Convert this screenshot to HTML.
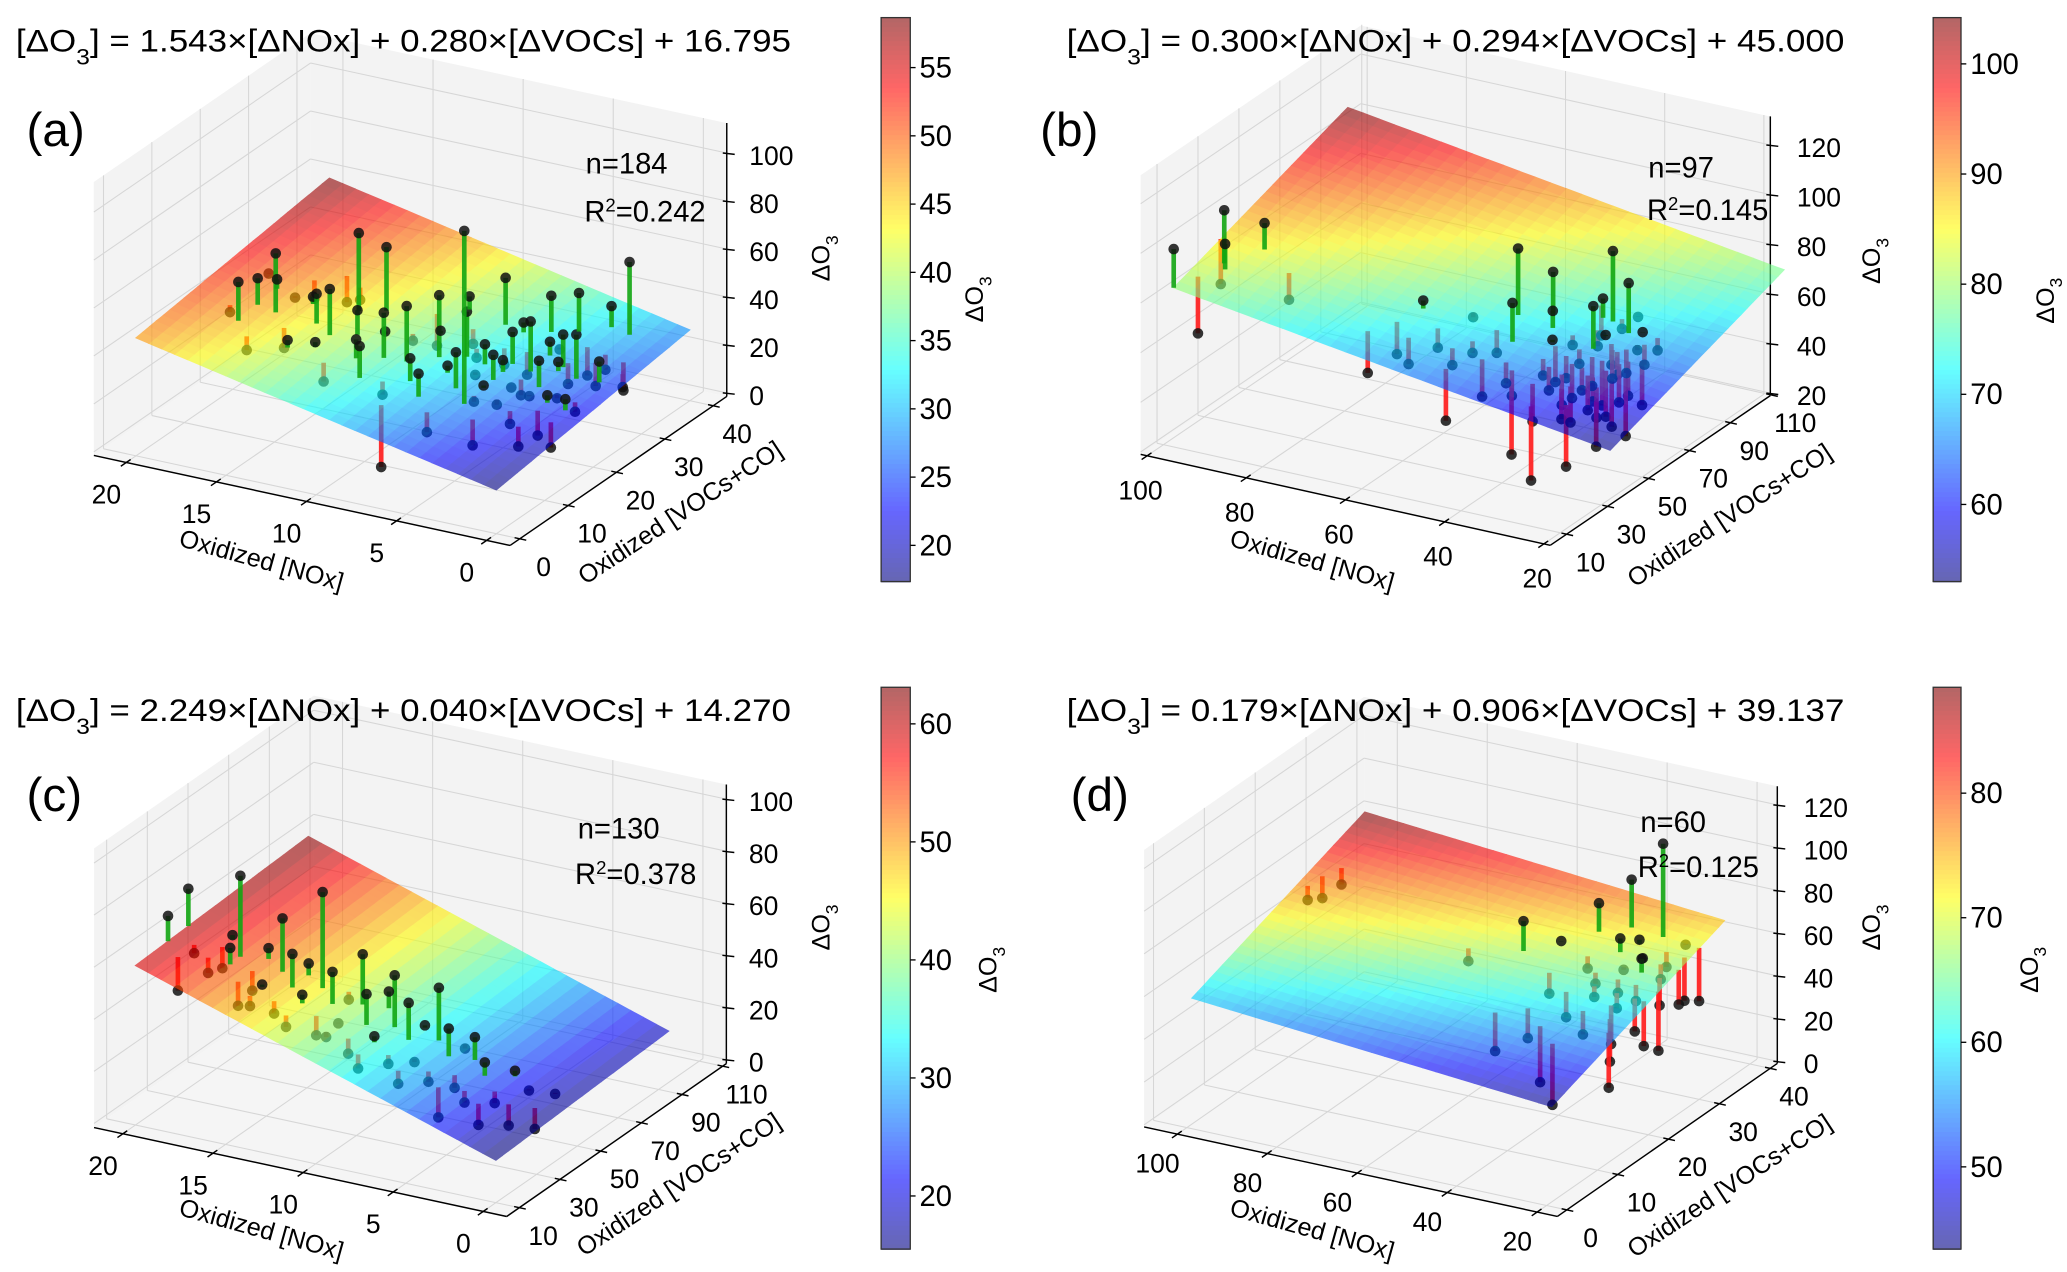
<!DOCTYPE html>
<html><head><meta charset="utf-8"><style>
html,body{margin:0;padding:0;background:#fff;}
svg{display:block;font-family:"Liberation Sans",Arial,sans-serif;}
</style></head><body>
<svg id="fig" width="2067" height="1272" viewBox="0 0 1560 960" preserveAspectRatio="none" xmlns="http://www.w3.org/2000/svg">
<rect width="1560" height="960" fill="#fff"/>
<g id="plots"></g>
<g font-size="24" fill="#000">
<text x="12" y="39" textLength="585" lengthAdjust="spacingAndGlyphs">[ΔO<tspan baseline-shift="sub" font-size="17">3</tspan>] = 1.543×[ΔNOx] + 0.280×[ΔVOCs] + 16.795</text>
<text x="805" y="39" textLength="587" lengthAdjust="spacingAndGlyphs">[ΔO<tspan baseline-shift="sub" font-size="17">3</tspan>] = 0.300×[ΔNOx] + 0.294×[ΔVOCs] + 45.000</text>
<text x="12" y="544" textLength="585" lengthAdjust="spacingAndGlyphs">[ΔO<tspan baseline-shift="sub" font-size="17">3</tspan>] = 2.249×[ΔNOx] + 0.040×[ΔVOCs] + 14.270</text>
<text x="805" y="544" textLength="587" lengthAdjust="spacingAndGlyphs">[ΔO<tspan baseline-shift="sub" font-size="17">3</tspan>] = 0.179×[ΔNOx] + 0.906×[ΔVOCs] + 39.137</text>
</g>
<g font-size="36">
<text x="20" y="110">(a)</text>
<text x="785" y="110">(b)</text>
<text x="20" y="612">(c)</text>
<text x="808" y="612">(d)</text>
</g>
<g font-size="22">
<text x="442" y="131">n=184</text>
<text x="441" y="167">R<tspan baseline-shift="super" font-size="14">2</tspan>=0.242</text>
<text x="1244" y="134">n=97</text>
<text x="1243" y="166">R<tspan baseline-shift="super" font-size="14">2</tspan>=0.145</text>
<text x="436" y="633">n=130</text>
<text x="434" y="667">R<tspan baseline-shift="super" font-size="14">2</tspan>=0.378</text>
<text x="1238" y="628">n=60</text>
<text x="1236" y="662">R<tspan baseline-shift="super" font-size="14">2</tspan>=0.125</text>
</g>
<g font-size="19" text-anchor="middle" dominant-baseline="middle">
<text transform="translate(197,424) rotate(15.5)">Oxidized [NOx]</text>
<text transform="translate(514,388) rotate(-33.4)">Oxidized [VOCs+CO]</text>
<text transform="translate(621,195) rotate(-90)">ΔO<tspan baseline-shift="sub" font-size="13">3</tspan></text>
<text transform="translate(990,424) rotate(15.5)">Oxidized [NOx]</text>
<text transform="translate(1306,390) rotate(-33.4)">Oxidized [VOCs+CO]</text>
<text transform="translate(1414,197) rotate(-90)">ΔO<tspan baseline-shift="sub" font-size="13">3</tspan></text>
<text transform="translate(197,929) rotate(15.5)">Oxidized [NOx]</text>
<text transform="translate(513,895) rotate(-33.4)">Oxidized [VOCs+CO]</text>
<text transform="translate(621,700) rotate(-90)">ΔO<tspan baseline-shift="sub" font-size="13">3</tspan></text>
<text transform="translate(990,929) rotate(15.5)">Oxidized [NOx]</text>
<text transform="translate(1306,896) rotate(-33.4)">Oxidized [VOCs+CO]</text>
<text transform="translate(1414,700) rotate(-90)">ΔO<tspan baseline-shift="sub" font-size="13">3</tspan></text>
<text transform="translate(737,226) rotate(-90)">ΔO<tspan baseline-shift="sub" font-size="13">3</tspan></text>
<text transform="translate(1545,227) rotate(-90)">ΔO<tspan baseline-shift="sub" font-size="13">3</tspan></text>
<text transform="translate(747,732) rotate(-90)">ΔO<tspan baseline-shift="sub" font-size="13">3</tspan></text>
<text transform="translate(1533,732) rotate(-90)">ΔO<tspan baseline-shift="sub" font-size="13">3</tspan></text>
</g>
</svg>
<script>
// ---------- data ----------
const aCoef = [1.543, 0.280, 16.795];
const aNox = [17,16,15,14,13,12,16,18,15,14,13,17,12,11,16,14,18,15,13,12,11,17,16,10,10,9,8,9,8,7,10,9,7,8,6,6,7,10,9,5,5,4,3,4,3,2,5,2,4,3,1,2,1,3,4,5,2,1,3,2,1,4,6,6,5,0.5,7,8,5,4,3,2,6,4,3,5,2,1,6,7,3,4,2,5];
const aVoc = [10,14,18,9,20,16,22,12,12,15,11,18,22,12,8,24,20,25,14,9,18,14,18,14,20,15,18,10,12,16,9,22,20,25,14,18,10,25,28,12,18,15,20,22,14,18,25,24,28,30,20,12,25,25,18,20,30,15,35,35,30,10,24,8,30,28,28,6,16,20,24,28,20,26,18,22,20,18,28,22,26,32,16,14];
const aO3 = [62,70,48,44,75,50,40,45,35,55,42,52,68,45,38,40,50,36,60,30,40,58,46,55,35,58,60,28,42,35,48,38,52,30,45,30,40,26,44,100,40,25,38,50,20,28,22,45,30,18,20,15,34,42,28,35,22,12,40,60,15,15,26,20,48,20,55,5,30,22,32,18,40,36,26,44,24,28,38,30,20,48,14,26];

const bCoef = [0.300, 0.294, 45.000];
const bNox = [98,96,95,100,92,85,100,50,48,45,42,40,38,36,35,34,33,32,31,30,30,29,28,28,27,26,26,25,25,24,24,23,23,22,22,21,21,20,20,27,29,32,34,36,38,40,44,46,55,58,62,65,60,52,48,30,25,28,26,24,31,33,27,29,35,23,22,30,26];
const bVoc = [22,30,28,15,40,35,38,30,35,50,40,55,30,45,38,50,28,42,55,35,60,48,40,30,52,45,58,38,50,42,60,35,55,48,40,60,30,50,42,65,62,60,64,25,50,32,30,42,35,28,32,25,40,45,22,20,25,45,38,52,46,36,32,54,44,46,56,40,50];
const bO3 = [58,104,92,95,95,70,68,62,65,100,85,90,55,70,60,66,48,58,64,52,100,85,56,50,60,48,90,54,58,46,70,50,66,52,44,64,42,48,40,72,68,80,62,35,78,58,52,62,64,60,60,55,78,72,45,30,35,55,50,58,62,56,48,70,54,50,60,52,56];

const cCoef = [2.249, 0.040, 14.270];
const cNox = [20,19,18,19,17,18,16,17,16,15,15,14,14,13,13,12,12,11,11,10,10,9,9,8,8,7,7,6,6,5,5,4,4,3,3,2,2,1,1,16,14,12,10,8,6,18,20,11,9,7,5,3,13,15];
const cVoc = [26,30,28,22,35,35,25,30,32,28,38,25,34,30,40,28,36,30,42,26,35,30,40,28,38,32,44,30,40,34,44,30,40,36,46,34,44,38,48,40,42,44,46,46,48,40,36,24,22,24,26,28,22,22];
const cO3 = [70,55,50,45,85,48,42,60,44,50,70,42,60,48,82,35,55,40,60,32,50,38,56,30,48,30,52,25,40,22,36,20,30,18,25,12,20,10,18,56,52,40,45,35,28,58,75,38,30,26,15,14,40,45];

const dCoef = [0.179, 0.906, 39.137];
const dNox = [98,97,95,60,50,45,42,40,38,36,35,34,33,32,31,30,30,29,28,28,27,26,26,25,25,24,24,23,23,22,22,21,21,20,20,20,40,45,35,30];
const dVoc = [22,24,26,20,22,25,20,28,24,18,30,22,26,20,28,24,16,22,30,26,20,24,18,28,22,26,16,20,30,24,14,28,20,26,30,22,14,12,12,10];
const dO3 = [70,68,72,62,82,70,55,85,62,50,95,60,75,58,72,65,48,58,115,68,55,72,42,62,56,60,38,46,70,52,30,48,40,50,45,35,45,40,30,25];

const aXTicks=[0,5,10,15,20], aYTicks=[0,10,20,30,40], aZTicks=[0,20,40,60,80,100], aCbTicks=[20,25,30,35,40,45,50,55];
const bXTicks=[20,40,60,80,100], bYTicks=[10,30,50,70,90,110], bZTicks=[20,40,60,80,100,120], bCbTicks=[60,70,80,90,100];
const cXTicks=[0,5,10,15,20], cYTicks=[10,30,50,70,90,110], cZTicks=[0,20,40,60,80,100], cCbTicks=[20,30,40,50,60];
const dXTicks=[20,40,60,80,100], dYTicks=[0,10,20,30,40], dZTicks=[0,20,40,60,80,100,120], dCbTicks=[50,60,70,80];

// ---------- layout (projection) ----------
const panels = [
 {id:'a',O:[374.6,400.1],ex:[-13.6,-2.94],ey:[3.65,-2.51],ez:[0,-1.81],bx:[-1.3,21.8],by:[-2,42.8],bz:[-1.5,112.5],px:[0,20],py:[0,40],coef:aCoef,nox:aNox,voc:aVoc,o3:aO3,xt:aXTicks,yt:aYTicks,zt:aZTicks,xoff:[-15,24],cb:{x:665,y:13.3,w:22,h:425.6,min:17.35,max:58.66,ticks:aCbTicks}},
 {id:'b',O:[1236.9,464.8],ex:[-3.7425,-0.831],ey:[1.545,-1.051],ez:[0,-1.873],bx:[18.7,101.3],by:[2,109.5],bz:[19,131.5],px:[12,100],py:[15,100],coef:bCoef,nox:bNox,voc:bVoc,o3:bO3,xt:bXTicks,yt:bYTicks,zt:bZTicks,xoff:[-5,26],cb:{x:1459,y:13.3,w:21,h:425.6,min:53.0,max:104.2,ticks:bCbTicks}},
 {id:'c',O:[358.9,915.2],ex:[-13.6,-2.93],ey:[1.535,-1.068],ez:[0,-1.965],bx:[-1.3,21.6],by:[3.8,111.8],bz:[-1.6,105.6],px:[0,20],py:[10,95],coef:cCoef,nox:cNox,voc:cVoc,o3:cO3,xt:cXTicks,yt:cYTicks,zt:cZTicks,xoff:[-15,24],cb:{x:665,y:518.7,w:22,h:424,min:15.5,max:63.1,ticks:cCbTicks}},
 {id:'d',O:[1235.1,922.9],ex:[-3.394,-0.735],ey:[3.8375,-2.67],ez:[0,-1.6125],bx:[15.5,107.4],by:[-1.85,41.4],bz:[-1,128.7],px:[20,100],py:[1,35],coef:dCoef,nox:dNox,voc:dVoc,o3:dO3,xt:dXTicks,yt:dYTicks,zt:dZTicks,xoff:[-15,22],cb:{x:1459,y:518.7,w:21,h:424,min:43.4,max:88.5,ticks:dCbTicks}}
];

const NS='http://www.w3.org/2000/svg';
const root=document.getElementById('plots');
function mk(tag,attrs,parent){const e=document.createElementNS(NS,tag);for(const k in attrs)e.setAttribute(k,attrs[k]);parent.appendChild(e);return e;}
function clamp(v){return Math.max(0,Math.min(1,v));}
function jet(t,alpha){
  const r=clamp(1.5-Math.abs(4*t-3)),g=clamp(1.5-Math.abs(4*t-2)),b=clamp(1.5-Math.abs(4*t-1));
  const f=c=>Math.round(255*(c*alpha+(1-alpha)));
  return 'rgb('+f(r)+','+f(g)+','+f(b)+')';
}
function pts(arr){return arr.map(p=>p[0].toFixed(1)+','+p[1].toFixed(1)).join(' ');}

panels.forEach(P=>{
  const g=mk('g',{},root);
  
  
  const pr=(x,y,z)=>[P.O[0]+x*P.ex[0]+y*P.ey[0]+z*P.ez[0], P.O[1]+x*P.ex[1]+y*P.ey[1]+z*P.ez[1]];
  const [x0,x1]=P.bx,[y0,y1]=P.by,[z0,z1]=P.bz;
  const plane=(x,y)=>P.coef[0]*x+P.coef[1]*y+P.coef[2];
  const panes=[[pr(x0,y0,z0),pr(x1,y0,z0),pr(x1,y1,z0),pr(x0,y1,z0)],[pr(x1,y0,z0),pr(x1,y1,z0),pr(x1,y1,z1),pr(x1,y0,z1)],[pr(x0,y1,z0),pr(x1,y1,z0),pr(x1,y1,z1),pr(x0,y1,z1)]];
  ['floor-pane','left-wall-pane','back-wall-pane'].forEach((nm,i)=>{
    const pg=mk('polygon',{points:pts(panes[i]),fill:i==0?'#f5f5f5':'#f3f3f3'},g);
    
    
  });
  const grid=mk('g',{stroke:'#d6d6d6','stroke-width':0.8,fill:'none'},g);
  
  
  const ln=(a,b,par,attrs)=>mk('line',Object.assign({x1:a[0],y1:a[1],x2:b[0],y2:b[1]},attrs||{}),par);
  P.xt.forEach(t=>{ln(pr(t,y0,z0),pr(t,y1,z0),grid);ln(pr(t,y1,z0),pr(t,y1,z1),grid);});
  P.yt.forEach(t=>{ln(pr(x0,t,z0),pr(x1,t,z0),grid);ln(pr(x1,t,z0),pr(x1,t,z1),grid);});
  P.zt.forEach(t=>{ln(pr(x1,y0,t),pr(x1,y1,t),grid);ln(pr(x0,y1,t),pr(x1,y1,t),grid);});
  const ax=mk('g',{stroke:'#000','stroke-width':1.1},g);
  
  
  ln(pr(x0,y0,z0),pr(x1,y0,z0),ax);ln(pr(x0,y0,z0),pr(x0,y1,z0),ax);ln(pr(x0,y1,z0),pr(x0,y1,z1),ax);
  const norm=v=>{const l=Math.hypot(v[0],v[1]);return [v[0]/l,v[1]/l];};
  const ny=norm(P.ey),nx=norm(P.ex);
  const lab=mk('g',{'font-size':20,fill:'#000'},g);
  P.xt.forEach(t=>{const p=pr(t,y0,z0);ln([p[0]+ny[0]*4,p[1]+ny[1]*4],[p[0]-ny[0]*5,p[1]-ny[1]*5],ax);
    const tx=mk('text',{x:p[0]+P.xoff[0],y:p[1]+P.xoff[1]+7,'text-anchor':'middle'},lab);tx.textContent=t;
    
    });
  P.yt.forEach(t=>{const p=pr(x0,t,z0);ln([p[0]+nx[0]*4,p[1]+nx[1]*4],[p[0]-nx[0]*5,p[1]-nx[1]*5],ax);
    const tx=mk('text',{x:p[0]+18,y:p[1]+21+7,'text-anchor':'middle'},lab);tx.textContent=t;
    
    });
  P.zt.forEach(t=>{const p=pr(x0,y1,t);ln([p[0]-3,p[1]],[p[0]+6,p[1]+1],ax);
    const tx=mk('text',{x:p[0]+(P.id=='b'||P.id=='d'?20:17),y:p[1]+9,'text-anchor':'start'},lab);tx.textContent=t;
    
    });
  const below=mk('g',{},g);
  
  
  const above=mk('g',{},g);
  const drawStem=(i,par)=>{
    const x=P.nox[i],y=P.voc[i],z=P.o3[i],zp=plane(x,y);
    const a=pr(x,y,zp),b=pr(x,y,z);
    const s=ln(a,b,par,{stroke:z>=zp?'#12a512':'#ff1a1a','stroke-width':3.5,'stroke-opacity':0.9});
    
    
    const c=mk('circle',{cx:b[0],cy:b[1],r:4,fill:'#111','fill-opacity':0.85},par);
    
    
  };
  P.o3.forEach((z,i)=>{ if(z<plane(P.nox[i],P.voc[i])) drawStem(i,below); });
  const surf=mk('g',{opacity:0.6},g);
  
  
  const N=28,[px0,px1]=P.px,[py0,py1]=P.py;
  for(let i=0;i<N;i++)for(let j=0;j<N;j++){
    const xa=px0+(px1-px0)*i/N,xb=px0+(px1-px0)*(i+1)/N,ya=py0+(py1-py0)*j/N,yb=py0+(py1-py0)*(j+1)/N;
    const zc=plane((xa+xb)/2,(ya+yb)/2),col=jet((zc-P.cb.min)/(P.cb.max-P.cb.min),1);
    mk('polygon',{points:pts([pr(xa,ya,plane(xa,ya)),pr(xb,ya,plane(xb,ya)),pr(xb,yb,plane(xb,yb)),pr(xa,yb,plane(xa,yb))]),fill:col,stroke:col,'stroke-width':0.8},surf);
  }
  g.appendChild(above);
  
  
  P.o3.forEach((z,i)=>{ if(z>=plane(P.nox[i],P.voc[i])) drawStem(i,above); });
  const cb=P.cb,cg=mk('g',{},root);
  
  
  const M=120;
  for(let k=0;k<M;k++){mk('rect',{x:cb.x,y:cb.y+cb.h*k/M,width:cb.w,height:cb.h/M+0.6,fill:jet(1-(k+0.5)/M,0.6)},cg);}
  mk('rect',{x:cb.x,y:cb.y,width:cb.w,height:cb.h,fill:'none',stroke:'#333','stroke-width':1},cg);
  cb.ticks.forEach(t=>{const yy=cb.y+cb.h*(1-(t-cb.min)/(cb.max-cb.min));
    mk('line',{x1:cb.x+cb.w,y1:yy,x2:cb.x+cb.w+4,y2:yy,stroke:'#000','stroke-width':1},cg);
    const tx=mk('text',{x:cb.x+cb.w+7,y:yy+7.5,'font-size':22},cg);tx.textContent=t;
    
    });
});
</script>
</body></html>
